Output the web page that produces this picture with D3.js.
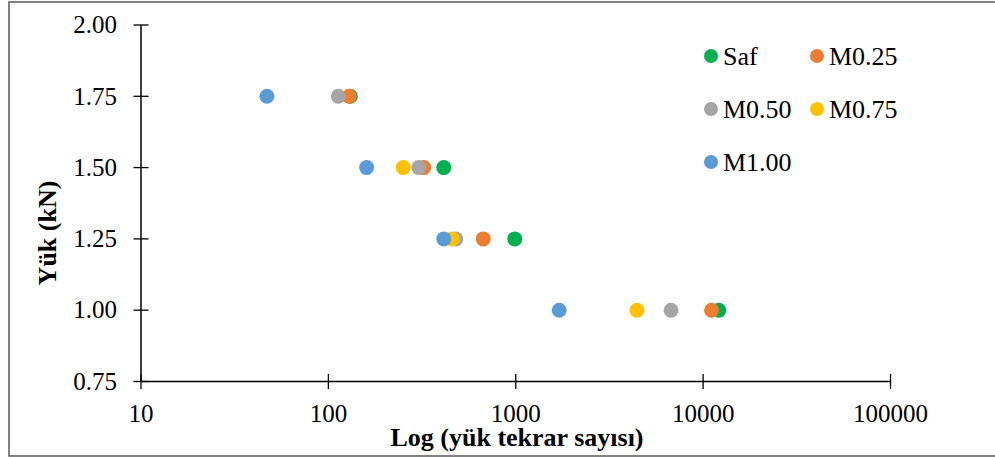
<!DOCTYPE html>
<html><head><meta charset="utf-8">
<script src="https://cdn.jsdelivr.net/npm/d3@7"></script>
<style>html,body{margin:0;padding:0;background:#fff}svg{display:block}</style>
</head><body>
<svg id="c" width="995" height="457"></svg>
<script>
const seriesNames = ["Saf","M0.25","M0.50","M0.75","M1.00"];
const seriesColors = ["#00B050","#ED7D31","#A5A5A5","#FFC000","#5B9BD5"];
const loads = [1.75, 1.50, 1.25, 1.00];
const safCycles   = [131, 413, 988, 12130];
const m025Cycles  = [129, 323, 671, 11090];
const m050Cycles  = [113, 304, 478, 6745];
const m075Cycles  = [null, 251, 458, 4436];
const m100Cycles  = [47, 160, 413, 1705];
const allCycles = [safCycles, m025Cycles, m050Cycles, m075Cycles, m100Cycles];
const xTicks = [10, 100, 1000, 10000, 100000];
const yTicks = [0.75, 1.00, 1.25, 1.50, 1.75, 2.00];

const svg = d3.select("#c");
svg.append("rect").attr("x",9).attr("y",2).attr("width",1000).attr("height",454)
  .attr("fill","none").attr("stroke","#595959").attr("stroke-width",1.5);

const x = d3.scaleLog().domain([10,100000]).range([141,890.5]);
const y = d3.scaleLinear().domain([0.75,2.0]).range([381.5,25]);

// axes
const xa = svg.append("g").attr("transform","translate(0,"+y(0.75)+")");
xa.append("line").attr("x1",x(10)).attr("x2",x(100000)).attr("stroke","#000").attr("stroke-width",1.5);
xa.selectAll("line.t").data(xTicks).join("line").attr("class","t")
  .attr("x1",d=>x(d)).attr("x2",d=>x(d)).attr("y1",-7.5).attr("y2",7.5).attr("stroke","#000").attr("stroke-width",1.3);
xa.selectAll("text").data(xTicks).join("text")
  .attr("x",d=>x(d)).attr("y",40).attr("text-anchor","middle")
  .attr("font-family","Liberation Serif, Times New Roman, serif").attr("font-size",25)
  .text(d=>d3.format("d")(d));

const ya = svg.append("g").attr("transform","translate("+x(10)+",0)");
ya.append("line").attr("y1",y(0.75)).attr("y2",y(2.0)).attr("stroke","#000").attr("stroke-width",1.5);
ya.selectAll("line.t").data(yTicks).join("line").attr("class","t")
  .attr("y1",d=>y(d)).attr("y2",d=>y(d)).attr("x1",-7.5).attr("x2",7.5).attr("stroke","#000").attr("stroke-width",1.3);
ya.selectAll("text").data(yTicks).join("text")
  .attr("x",-24).attr("y",d=>y(d)).attr("dy","0.33em").attr("text-anchor","end")
  .attr("font-family","Liberation Serif, Times New Roman, serif").attr("font-size",25)
  .text(d=>d3.format(".2f")(d));

// titles
svg.append("text").attr("x",517).attr("y",446).attr("text-anchor","middle")
  .attr("font-family","Liberation Serif, Times New Roman, serif").attr("font-size",26).attr("font-weight","bold")
  .text("Log (yük tekrar sayısı)");
svg.append("text").attr("transform","translate(56,233) rotate(-90)").attr("text-anchor","middle")
  .attr("font-family","Liberation Serif, Times New Roman, serif").attr("font-size",26).attr("font-weight","bold")
  .text("Yük (kN)");

// points
seriesNames.forEach((name,i)=>{
  const pts = loads.map((l,j)=>({l, c: allCycles[i][j]})).filter(p=>p.c!=null);
  svg.append("g").selectAll("circle").data(pts).join("circle")
    .attr("cx",p=>x(p.c)).attr("cy",p=>y(p.l)).attr("r",7.5).attr("fill",seriesColors[i]);
});

// legend
const legPos = [[711,56],[817,56],[711,109],[817,109],[711,162]];
seriesNames.forEach((name,i)=>{
  const g = svg.append("g").attr("transform","translate("+legPos[i][0]+","+legPos[i][1]+")");
  g.append("circle").attr("r",7).attr("fill",seriesColors[i]);
  g.append("text").attr("x",12).attr("dy","0.34em")
    .attr("font-family","Liberation Serif, Times New Roman, serif").attr("font-size",26)
    .text(name);
});
</script>
</body></html>
